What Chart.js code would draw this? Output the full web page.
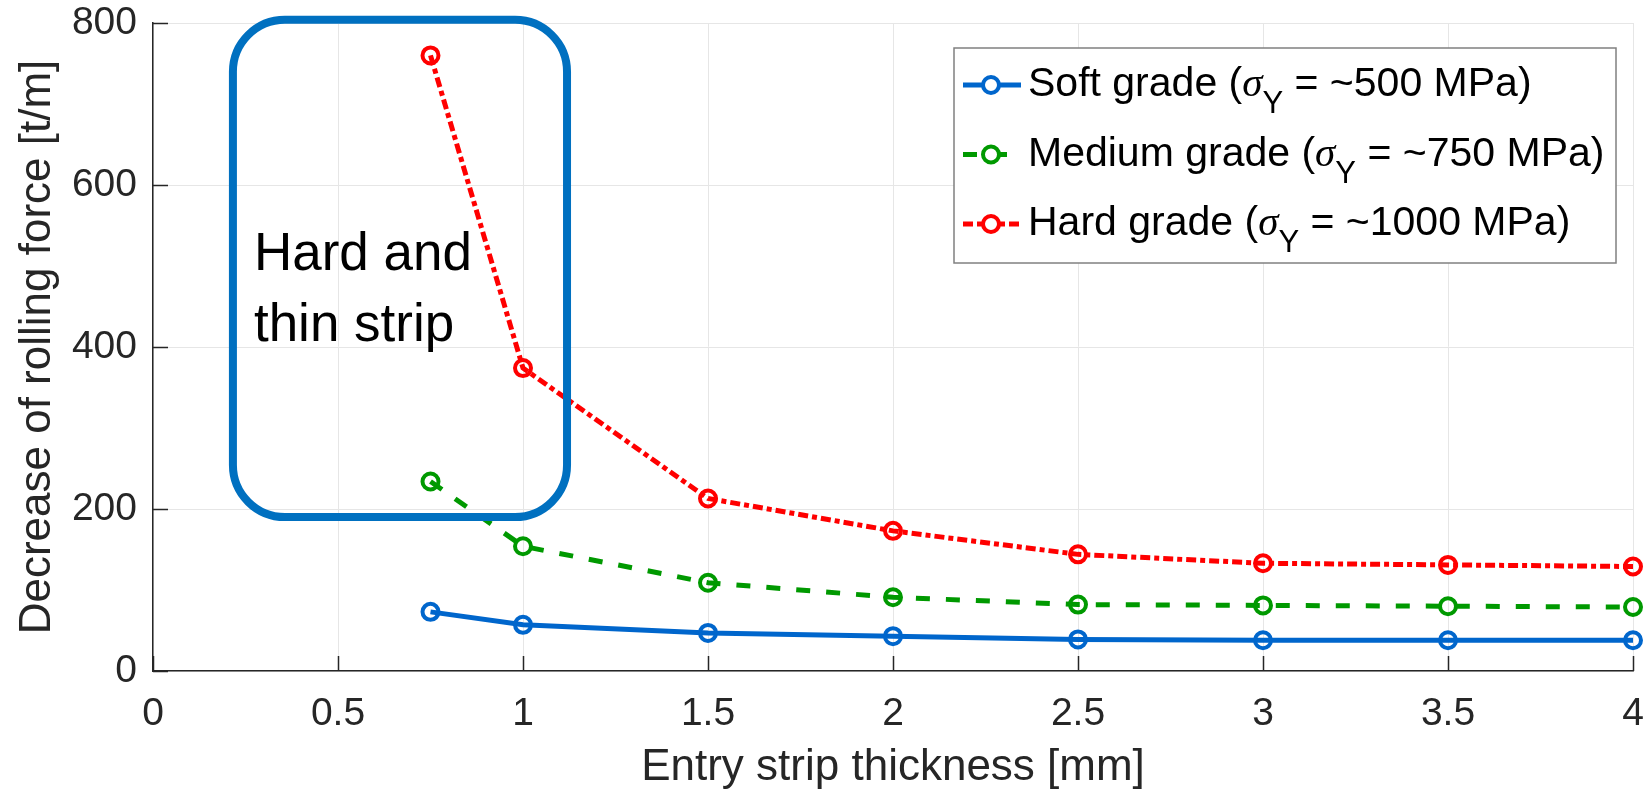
<!DOCTYPE html>
<html>
<head>
<meta charset="utf-8">
<script src="https://cdn.jsdelivr.net/npm/chart.js@4.4.0/dist/chart.umd.min.js"></script>
<style>
  html, body { margin: 0; padding: 0; background: #fff; }
  #wrap { width: 1648px; height: 792px; }
</style>
</head>
<body>
<div id="wrap"><canvas id="chart"></canvas></div>
<script>
// entry strip thickness [mm]
const thickness = [0.75, 1, 1.5, 2, 2.5, 3, 3.5, 4];
// decrease of rolling force [t/m]
const softForce = [73, 57, 47, 43, 39, 38, 38, 38];
const mediumForce = [234, 154, 109, 91, 82, 81, 80, 79];
const hardForce = [760, 374, 213, 173, 144, 133, 131, 129];

const gradeNames = ['Soft grade', 'Medium grade', 'Hard grade'];
const yieldLabels = ['~500', '~750', '~1000'];
const xTicks = [0, 0.5, 1, 1.5, 2, 2.5, 3, 3.5, 4];
const yTicks = [0, 200, 400, 600, 800];
const boxText = ['Hard and', 'thin strip'];

const FONT = "'Liberation Sans', Arial, sans-serif";
const AXIS = '#262626';

const toPoints = ys => thickness.map((x, i) => ({ x: x, y: ys[i] }));

// MATLAB style ticks pointing into the plot
const innerTicks = {
    id: 'innerTicks',
    beforeDatasetsDraw(chart) {
        const { ctx, chartArea, scales } = chart;
        ctx.save();
        ctx.strokeStyle = AXIS;
        ctx.lineWidth = 1.5;
        ctx.beginPath();
        xTicks.forEach(v => {
            const px = Math.round(scales.x.getPixelForValue(v)) + 0.5;
            ctx.moveTo(px, chartArea.bottom);
            ctx.lineTo(px, chartArea.bottom - 15);
        });
        yTicks.forEach(v => {
            const py = Math.round(scales.y.getPixelForValue(v)) + 0.5;
            ctx.moveTo(chartArea.left, py);
            ctx.lineTo(chartArea.left + 15, py);
        });
        ctx.stroke();
        ctx.restore();
    }
};

// rounded box with the "Hard and thin strip" note, placed in data units
const noteBox = {
    id: 'noteBox',
    afterDatasetsDraw(chart, args, o) {
        const { ctx, scales } = chart;
        const x1 = scales.x.getPixelForValue(o.xMin), x2 = scales.x.getPixelForValue(o.xMax);
        const y1 = scales.y.getPixelForValue(o.yMax), y2 = scales.y.getPixelForValue(o.yMin);
        ctx.save();
        ctx.strokeStyle = '#0070C0';
        ctx.lineWidth = 8;
        ctx.beginPath();
        ctx.roundRect(x1, y1, x2 - x1, y2 - y1, 52);
        ctx.stroke();
        ctx.fillStyle = '#000';
        ctx.font = '53px ' + FONT;
        ctx.textBaseline = 'alphabetic';
        boxText.forEach((t, i) => ctx.fillText(t, x1 + 21, y1 + 250 + i * 71));
        ctx.restore();
    }
};

// legend with sigma_Y subscript
const sigmaLegend = {
    id: 'sigmaLegend',
    afterDraw(chart, args, o) {
        const ctx = chart.ctx;
        ctx.save();
        ctx.fillStyle = '#fff';
        ctx.fillRect(o.x, o.y, o.w, o.h);
        ctx.strokeStyle = '#808080';
        ctx.lineWidth = 1.5;
        ctx.strokeRect(o.x, o.y, o.w, o.h);
        chart.data.datasets.forEach((ds, i) => {
            const cy = o.y + 37 + i * 69.5;
            ctx.strokeStyle = ds.borderColor;
            ctx.lineWidth = ds.borderWidth;
            ctx.setLineDash(ds.borderDash || []);
            ctx.beginPath();
            ctx.moveTo(o.x + 9, cy);
            ctx.lineTo(o.x + 67, cy);
            ctx.stroke();
            ctx.setLineDash([]);
            ctx.lineWidth = ds.pointBorderWidth;
            ctx.beginPath();
            ctx.arc(o.x + 37, cy, ds.pointRadius, 0, Math.PI * 2);
            ctx.fillStyle = '#fff';
            ctx.fill();
            ctx.stroke();

            const base = cy + 11;
            let tx = o.x + 74;
            ctx.fillStyle = '#000';
            ctx.textBaseline = 'alphabetic';
            ctx.font = '41px ' + FONT;
            let s = gradeNames[i] + ' (';
            ctx.fillText(s, tx, base); tx += ctx.measureText(s).width;
            ctx.font = "italic 41px 'Liberation Serif', serif";
            ctx.fillText('σ', tx, base); tx += ctx.measureText('σ').width;
            ctx.font = '31px ' + FONT;
            ctx.fillText('Y', tx, base + 17); tx += ctx.measureText('Y').width;
            ctx.font = '41px ' + FONT;
            ctx.fillText(' = ' + yieldLabels[i] + ' MPa)', tx, base);
        });
        ctx.restore();
    }
};

const lineSet = (label, ys, color, width, dash) => ({
    label: label,
    data: toPoints(ys),
    borderColor: color,
    borderWidth: width,
    borderDash: dash,
    pointRadius: 8,
    pointBorderWidth: 4,
    pointBorderColor: color,
    pointBackgroundColor: 'rgba(255,255,255,0)',
    clip: false,
    tension: 0
});

const noPad = s => { s.paddingTop = 0; s.paddingBottom = 0; s.paddingLeft = 0; s.paddingRight = 0; };

new Chart(document.getElementById('chart'), {
    type: 'line',
    data: {
        datasets: [
            lineSet(gradeNames[0], softForce, '#0066CC', 5, []),
            lineSet(gradeNames[1], mediumForce, '#009900', 5, [14, 16]),
            lineSet(gradeNames[2], hardForce, '#FF0000', 5, [10, 4, 5, 4])
        ]
    },
    options: {
        responsive: true,
        maintainAspectRatio: false,
        animation: false,
        devicePixelRatio: 1,
        layout: { padding: { top: 23, right: 15, left: 0, bottom: 0 } },
        plugins: {
            legend: { display: false },
            tooltip: { enabled: false },
            sigmaLegend: { x: 954, y: 48, w: 662, h: 215 },
            noteBox: { xMin: 0.216, xMax: 1.119, yMin: 190, yMax: 804 }
        },
        scales: {
            x: {
                type: 'linear',
                min: 0, max: 4,
                afterBuildTicks: s => { s.ticks = xTicks.map(v => ({ value: v })); },
                afterFit: s => { s.height = 121; noPad(s); },
                ticks: {
                    font: { family: FONT, size: 39 }, color: AXIS, padding: 20, maxRotation: 0,
                    callback: v => String(v)
                },
                grid: { color: '#e6e6e6', lineWidth: 1, drawTicks: false },
                border: { color: AXIS, width: 1.5 },
                title: {
                    display: true,
                    text: 'Entry strip thickness [mm]',
                    font: { family: FONT, size: 44, lineHeight: 1.1 },
                    color: AXIS,
                    padding: { top: 0, bottom: 0 }
                }
            },
            y: {
                min: 0, max: 800,
                afterBuildTicks: s => { s.ticks = yTicks.map(v => ({ value: v })); },
                afterFit: s => { s.width = 153; noPad(s); },
                ticks: { font: { family: FONT, size: 39 }, color: AXIS, padding: 16, callback: v => String(v) },
                grid: { color: '#e6e6e6', lineWidth: 1, drawTicks: false },
                border: { color: AXIS, width: 1.5 },
                title: {
                    display: true,
                    text: 'Decrease of rolling force [t/m]',
                    font: { family: FONT, size: 44 },
                    color: AXIS,
                    padding: { top: 11, bottom: 0 }
                }
            }
        }
    },
    plugins: [innerTicks, noteBox, sigmaLegend]
});
</script>
</body>
</html>
